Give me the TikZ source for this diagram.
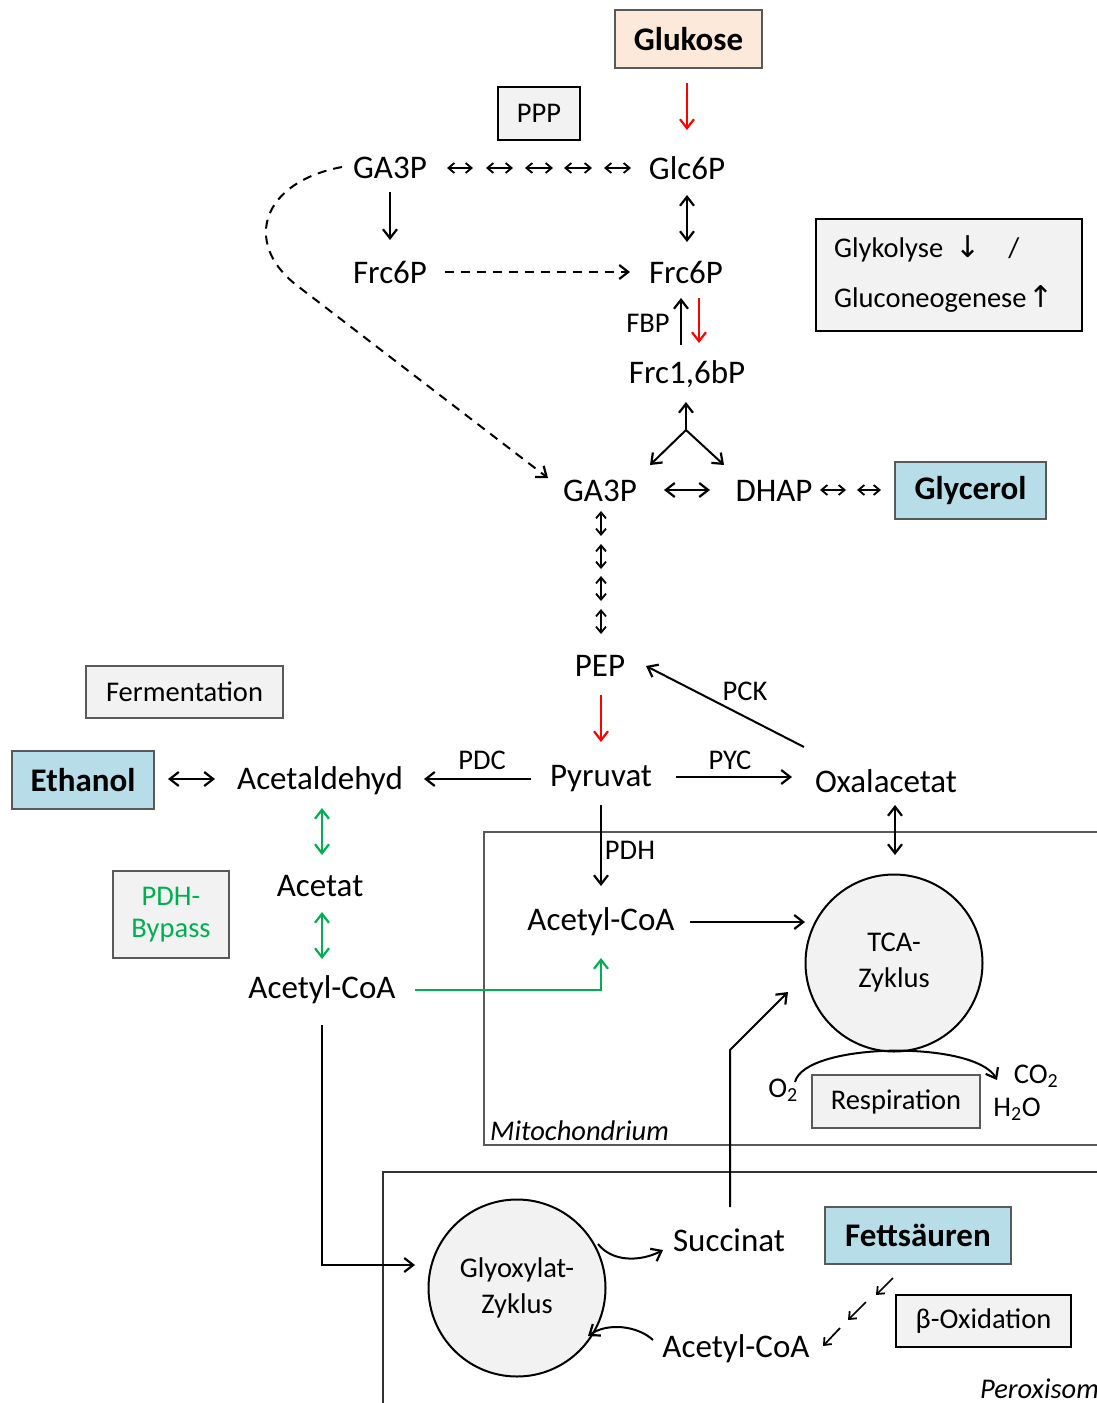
\documentclass[tikz,border=0pt]{standalone}
\usepackage{fontspec}
\setmainfont{Carlito}
\newfontfamily\dejavu{DejaVu Sans}
\usetikzlibrary{arrows.meta}
\definecolor{redarr}{HTML}{FF0000}
\definecolor{greenarr}{HTML}{00B050}
\definecolor{lblue}{HTML}{B7DEE8}
\definecolor{peach}{HTML}{FDE9D9}
\definecolor{lgray}{HTML}{F2F2F2}
\definecolor{bgray}{HTML}{595959}
\newcommand\fmain{\fontsize{33}{39}\selectfont}
\newcommand\fsmall{\fontsize{28.5}{34}\selectfont}
\begin{document}
\begin{tikzpicture}[x=1pt,y=-1pt,
  txt/.style={inner sep=0pt,font=\fmain},
  lbl/.style={inner sep=0pt,font=\fsmall},
  arr/.style={line width=2pt,-{Straight Barb[length=9pt,width=14pt,line width=2.2pt]}},
  darr/.style={line width=2pt,{Straight Barb[length=9pt,width=14pt,line width=2.2pt]}-{Straight Barb[length=9pt,width=14pt,line width=2.2pt]}},
  sarr/.style={line width=1.7pt,{Straight Barb[length=6pt,width=10pt,line width=1.8pt]}-{Straight Barb[length=6pt,width=10pt,line width=1.8pt]}},
  sharr/.style={line width=1.7pt,-{Straight Barb[length=6pt,width=10pt,line width=1.8pt]}},
  bluebox/.style={draw=bgray,line width=1.5pt,fill=lblue,font=\fmain\bfseries,inner sep=0pt},
  graybox/.style={draw=bgray,line width=1.5pt,fill=lgray,font=\fsmall,inner sep=0pt},
  blackbox/.style={draw=black,line width=2.2pt,fill=lgray,font=\fsmall,inner sep=0pt}
]
\useasboundingbox (0,0) rectangle (1097,1403);
\clip (0,0) rectangle (1097,1403);

% boxes
\node[draw=bgray,line width=1.5pt,fill=peach,font=\fmain\bfseries,minimum width=147pt,minimum height=58pt,inner sep=0pt] (glukose) at (688.5,39) {Glukose};
\node[blackbox,minimum width=82pt,minimum height=53pt] (ppp) at (539,113.5) {PPP};
\node[blackbox,minimum width=266pt,minimum height=112pt] (glybox) at (949,275) {};
\node[lbl,anchor=west] (glyk) at (834,249) {Glykolyse\hspace{12pt}{\dejavu\fontsize{30}{34}\selectfont ↓}\hspace{28pt}/};
\node[lbl,anchor=west] (glucn) at (834,299) {Gluconeogenese\hspace{2pt}{\dejavu\fontsize{30}{34}\selectfont ↑}};
\node[bluebox,minimum width=151pt,minimum height=57pt] (glycerol) at (970.5,490.5) {Glycerol};
\node[graybox,minimum width=197pt,minimum height=52pt] (ferm) at (184.5,692) {Fermentation};
\node[bluebox,minimum width=142pt,minimum height=58pt] (ethanol) at (83,780) {Ethanol};
\node[graybox,minimum width=116pt,minimum height=87pt,text=greenarr,align=center] (bypass) at (171,914.5) {PDH-\\[-2pt]Bypass};

% compartments
\draw[bgray,line width=1.5pt] (1100,832) -- (484,832) -- (484,1145) -- (1100,1145);
\node[lbl,anchor=south west,font=\fsmall\itshape] (mito) at (490,1141) {Mitochondrium};
\draw[black!80,line width=1.5pt] (1100,1172) -- (383,1172) -- (383,1410);
\node[lbl,anchor=south east,font=\fsmall\itshape] (perox) at (1099,1399) {Peroxisom};

% metabolites
\node[txt] (ga3pt) at (390,168) {GA3P};
\node[txt] (glc6p) at (687,168) {Glc6P};
\node[txt] (frc6pl) at (390,272) {Frc6P};
\node[txt] (frc6pr) at (686,272) {Frc6P};
\node[lbl] (fbp) at (648,323) {FBP};
\node[txt] (frc16) at (687,374) {Frc1,6bP};
\node[txt] (ga3p) at (600,491) {GA3P};
\node[txt] (dhap) at (774,491) {DHAP};
\node[txt] (pep) at (600,666) {PEP};
\node[txt] (pyr) at (601,779) {Pyruvat};
\node[txt] (acald) at (320,781) {Acetaldehyd};
\node[txt] (oxa) at (886,781) {Oxalacetat};
\node[txt] (acetat) at (320,886) {Acetat};
\node[txt] (acoal) at (322,990) {Acetyl-CoA};
\node[txt] (acoam) at (601,922) {Acetyl-CoA};
\node[txt] (succ) at (729,1240) {Succinat};
\node[bluebox,minimum width=186pt,minimum height=57pt] (fett) at (918,1235.5) {Fettsäuren};
\node[blackbox,minimum width=175pt,minimum height=52pt] (boxid) at (983.5,1321) {β-Oxidation};
\node[txt] (acoap) at (736,1349) {Acetyl-CoA};
\node[graybox,minimum width=168pt,minimum height=53pt] (resp) at (896,1101.5) {Respiration};
\node[lbl] (o2) at (783,1090) {O\textsubscript{2}};
\node[lbl] (co2) at (1036,1076) {CO\textsubscript{2}};
\node[lbl] (h2o) at (1017,1109) {H\textsubscript{2}O};

% cycles
\node[draw=black,line width=2pt,fill=lgray,circle,minimum size=177pt,inner sep=0pt,font=\fsmall,align=center] (tca) at (894,963) {TCA-\\[2pt]Zyklus};
\node[draw=black,line width=2pt,fill=lgray,circle,minimum size=177pt,inner sep=0pt,font=\fsmall,align=center] (glyox) at (517,1288) {Glyoxylat-\\[2pt]Zyklus};

% labels
\node[lbl] (pdc) at (482,760) {PDC};
\node[lbl] (pyc) at (730,760) {PYC};
\node[lbl] (pck) at (745,691) {PCK};
\node[lbl] (pdh) at (630,850) {PDH};

% coordinates
\coordinate (split) at (686,430);

% arrows top
\draw[arr,redarr] (687,83) -- (687,130);
\foreach \a/\b in {447/473,486/513,525/553,564/592,604/631}
  \draw[sarr] (\a,168) -- (\b,168);
\draw[arr] (390,192) -- (390,240);
\draw[darr] (687,195) -- (687,242);
\draw[arr,dashed,dash pattern=on 9pt off 7pt] (frc6pl.east)++(18,0) -- (630,272);
\draw[arr] (681,345) -- (681,298);
\draw[arr,redarr] (699,298) -- (699,343);
\draw[arr] (split) -- (686,402);
\draw[arr] (split) -- (650,465);
\draw[arr] (split) -- (724,465);
\draw[darr] (664,490) -- (710,490);
\draw[sarr] (820,490) -- (846,490);
\draw[sarr] (857,490) -- (881,490);
\draw[arr,dashed,dash pattern=on 9pt off 7pt] (342,167) .. controls (262,182) and (243,242) .. (295,284) -- (548,478);
\foreach \a/\b in {511/536,544/569,576/601,609/634}
  \draw[sarr] (601,\a) -- (601,\b);

% middle
\draw[arr,redarr] (601,695) -- (601,742);
\draw[arr] (804,747) -- (646,666);
\draw[arr] (676,777) -- (792,777);
\draw[arr] (531,779) -- (424,779);
\draw[darr] (168,779) -- (215,779);
\draw[darr] (895,805) -- (895,855);
\draw[darr,greenarr] (322,808) -- (322,855);
\draw[darr,greenarr] (322,912) -- (322,959);
\draw[arr] (601,805) -- (601,886);
\draw[arr] (690,922) -- (805,922);
\draw[arr,greenarr] (415,990) -- (601,990) -- (601,958);
\draw[arr] (730,1207) -- (730,1050) -- (788,992);
\draw[arr] (795,1082) .. controls (805,1042) and (975,1040) .. (997,1080);

% bottom
\draw[arr] (322,1025) -- (322,1265) -- (415,1265);
\draw[arr] (598,1244) .. controls (612,1262) and (640,1262) .. (663,1250);
\draw[arr] (653,1340) .. controls (638,1326) and (608,1322) .. (588,1336);
\draw[sharr] (893,1278) -- (876,1295);
\draw[sharr] (866,1302) -- (848,1320);
\draw[sharr] (840,1328) -- (823,1346);
\end{tikzpicture}
\end{document}
